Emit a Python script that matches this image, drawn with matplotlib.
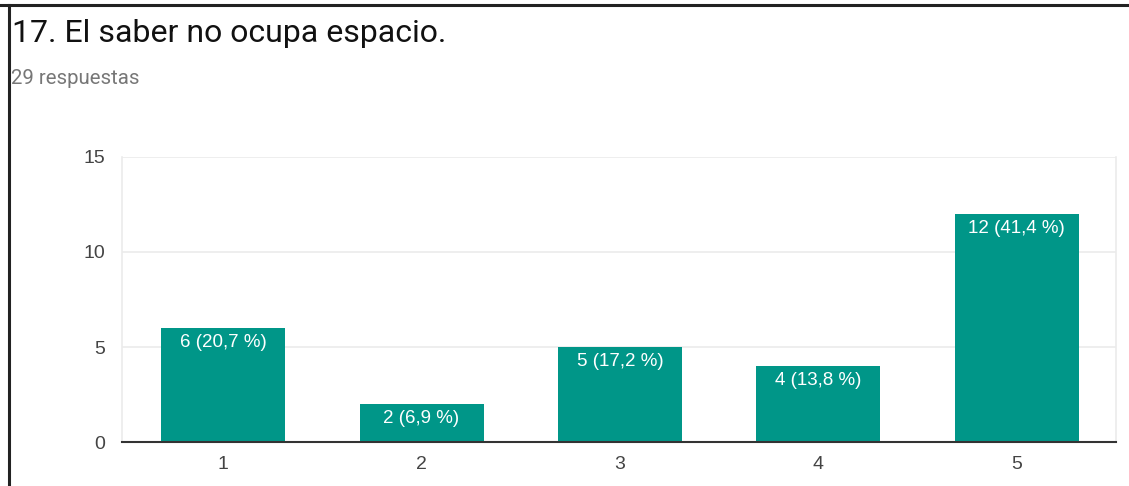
import matplotlib
matplotlib.use("Agg")
import matplotlib.pyplot as plt

plt.rcParams['font.family'] = ['Roboto', 'DejaVu Sans']
chart_font = ['Liberation Sans', 'DejaVu Sans']

categories = ["1", "2", "3", "4", "5"]
counts = [6, 2, 5, 4, 12]
percents = ["20,7", "6,9", "17,2", "13,8", "41,4"]

teal = "#009688"

fig = plt.figure(figsize=(11.29, 4.86), dpi=100)
ax = fig.add_axes([0.108, 0.0905, 0.8805, 0.5865])

x = list(range(1, len(categories) + 1))
bars = ax.bar(x, counts, width=0.625, color=teal, zorder=2)

for xi, c, p in zip(x, counts, percents):
    ax.annotate(f"{c} ({p} %)", (xi, c), xytext=(0, -4), textcoords="offset points",
                ha="center", va="top", color="white", fontsize=13.5,
                family=chart_font, zorder=3)

ax.set_xlim(0.49, 5.5)
ax.set_ylim(0, 15)
ax.set_yticks([0, 5, 10, 15])
ax.set_xticks(x)
ax.set_xticklabels(categories)
for lbl in ax.get_xticklabels() + ax.get_yticklabels():
    lbl.set_family(chart_font)
ax.yaxis.grid(True, color="#ebebeb", linewidth=1.2, zorder=0)
ax.tick_params(axis="both", length=0, labelsize=14, labelcolor="#444444")
ax.tick_params(axis="y", pad=12)
ax.tick_params(axis="x", pad=10)

for side in ["top", "right", "left"]:
    ax.spines[side].set_color("#ebebeb")
    ax.spines[side].set_linewidth(1.2)
ax.spines["top"].set_visible(False)
ax.spines["bottom"].set_color("#333333")
ax.spines["bottom"].set_linewidth(1.5)
ax.spines["bottom"].set_zorder(4)

# title and subtitle
fig.text(12 / 1129, 1 - 33 / 486, "17. El saber no ocupa espacio.", fontsize=23,
         color="#111111", va="center", ha="left")
fig.text(11 / 1129, 1 - 78 / 486, "29 respuestas", fontsize=14.7,
         color="#777777", va="center", ha="left")

# outer frame lines (top and left)
fig.add_artist(plt.Line2D([0, 1], [1 - 5 / 486, 1 - 5 / 486], color="#222222", linewidth=2.2))
fig.add_artist(plt.Line2D([8.5 / 1129, 8.5 / 1129], [0, 1 - 5 / 486], color="#222222", linewidth=2.2))

fig.savefig("out.png", dpi=100)
